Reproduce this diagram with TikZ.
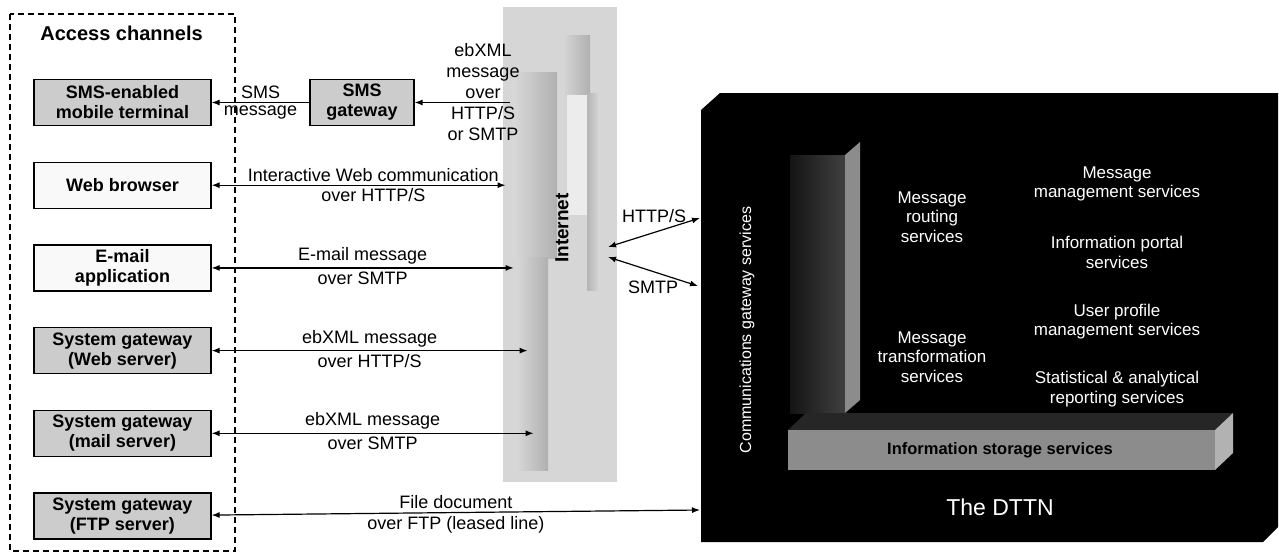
\documentclass[tikz,border=0pt]{standalone}
\usepackage{fontspec}
\setmainfont{Liberation Sans}
\usetikzlibrary{arrows.meta,positioning}

\begin{document}
\begin{tikzpicture}[x=0.5pt, y=-0.5pt,
    chanbox/.style={draw, line width=0.6pt, minimum width=88.5pt, minimum height=23pt, inner sep=1pt, align=center, font=\bfseries\fontsize{9}{10}\selectfont},
    lbl/.style={font=\fontsize{9}{11}\selectfont, inner sep=1.5pt, align=center},
    svc/.style={text=white, align=center, font=\fontsize{8.5}{9.75}\selectfont},
    arrow/.style={-{Latex[length=4pt, width=3pt]}, line width=0.6pt},
    twoway/.style={{Latex[length=4pt, width=3pt]}-{Latex[length=4pt, width=3pt]}, line width=0.6pt}
  ]
    \useasboundingbox (0,0) rectangle (1279,553);

    % access channels
    \draw[line width=0.6pt, dash pattern=on 3pt off 2pt] (10,14) rectangle (235,551);
    \node[anchor=west, inner sep=0, font=\bfseries\fontsize{10}{12}\selectfont] (title) at (40,33) {Access channels};
    \node[chanbox, fill=gray!40] (smsterm) at (122.5,102.5) {SMS-enabled\\mobile terminal};
    \node[chanbox, fill=gray!5, below=17.75pt of smsterm] (web) {Web browser};
    \node[chanbox, fill=gray!5, below=17.75pt of web] (mail) {E-mail\\application};
    \node[chanbox, fill=gray!40, below=17.75pt of mail] (gwweb) {System gateway\\(Web server)};
    \node[chanbox, fill=gray!40, below=17.75pt of gwweb] (gwmail) {System gateway\\(mail server)};
    \node[chanbox, fill=gray!40, below=17.75pt of gwmail] (gwftp) {System gateway\\(FTP server)};
    \node[chanbox, fill=gray!40, minimum width=52pt] (smsgw) at (362,102.5) {SMS\\gateway};

    % internet
    \node[fill=gray!32, minimum width=57pt, minimum height=237.5pt, inner sep=0] (inet) at (560,244.5) {};
    \shade[left color=gray!30, right color=gray!62] (513,72) rectangle (557,258);
    \shade[left color=gray!32, right color=gray!62] (517,257) rectangle (548,470);
    \shade[left color=gray!35, right color=gray!62] (565,35) rectangle (590,95);
    \fill[gray!15] (567,95) rectangle (587,215);
    \shade[left color=gray!58, right color=gray!35] (587,93) rectangle (598,290);
    \node[rotate=90, font=\bfseries\fontsize{9.5}{11}\selectfont] (inetlbl) at (562,228) {Internet};

    % the DTTN
    \fill[black] (701,110) -- (720,93) -- (1278,93) -- (1278,527) -- (1263,542) -- (701,542) -- cycle;
    \shade[left color=black!92, right color=black!75] (790,155) rectangle (845,413);
    \fill[black!45] (845,155) -- (860,142) -- (860,400) -- (845,413) -- cycle;
    \fill[black!85] (788,430) -- (806,413) -- (1233,413) -- (1215,430) -- cycle;
    \fill[black!45] (788,430) rectangle (1215,470);
    \fill[black!30] (1215,430) -- (1233,413) -- (1233,453) -- (1215,470) -- cycle;
    \node[font=\bfseries\fontsize{8.25}{10}\selectfont] (storage) at (1000,450) {Information storage services};
    \node[rotate=90, text=white, font=\fontsize{8}{9}\selectfont] (commgw) at (747,330) {Communications gateway services};
    \node[svc] (routing) at (932,217) {Message\\routing\\services};
    \node[svc] (transform) at (932,357) {Message\\transformation\\services};
    \node[svc] (msgmgmt) at (1117,184) {Message\\management services};
    \node[svc] (portal) at (1117,252.5) {Information portal\\services};
    \node[svc] (profile) at (1117,321.5) {User profile\\management services};
    \node[svc] (stats) at (1117,389) {Statistical \& analytical\\reporting services};
    \node[text=white, font=\fontsize{11.5}{13}\selectfont] (dttnlbl) at (1000,507) {The DTTN};

    % connector ends
    \coordinate (insms) at (510,102.5);
    \path (web.east) ++(294,0) coordinate (inweb);
    \path (mail.east) ++(302,0) coordinate (inmail);
    \path (gwweb.east) ++(316,0) coordinate (ingwweb);
    \path (gwmail.east) ++(322,0) coordinate (ingwmail);
    \coordinate (dttnftp) at (700,510);
    \coordinate (inhttp) at (608,247);
    \coordinate (insmtp) at (608,257);
    \coordinate (dttnhttp) at (700,218);
    \coordinate (dttnsmtp) at (698,286);

    \draw[arrow] (smsgw) -- node[lbl, above]{SMS} node[lbl, below]{message} (smsterm);
    \draw[arrow] (insms) -- (smsgw);
    \node[font=\fontsize{9}{10.5}\selectfont, align=center] (ebxml) at (483,92) {ebXML\\message\\over\\HTTP/S\\or SMTP};
    \draw[twoway] (web) -- node[lbl, above, pos=0.55]{Interactive Web communication} node[lbl, below, pos=0.55]{over HTTP/S} (inweb);
    \draw[twoway] (mail) -- node[lbl, above]{E-mail message} node[lbl, below]{over SMTP} (inmail);
    \draw[twoway] (gwweb) -- node[lbl, above]{ebXML message} node[lbl, below]{over HTTP/S} (ingwweb);
    \draw[twoway] (gwmail) -- node[lbl, above]{ebXML message} node[lbl, below]{over SMTP} (ingwmail);
    \draw[twoway] (gwftp) -- node[lbl, above]{File document} node[lbl, below]{over FTP (leased line)} (dttnftp);
    \draw[twoway] (inhttp) -- node[lbl, above=3pt]{HTTP/S} (dttnhttp);
    \draw[twoway] (insmtp) -- node[lbl, below=3pt]{SMTP} (dttnsmtp);
  \end{tikzpicture}
\end{document}
